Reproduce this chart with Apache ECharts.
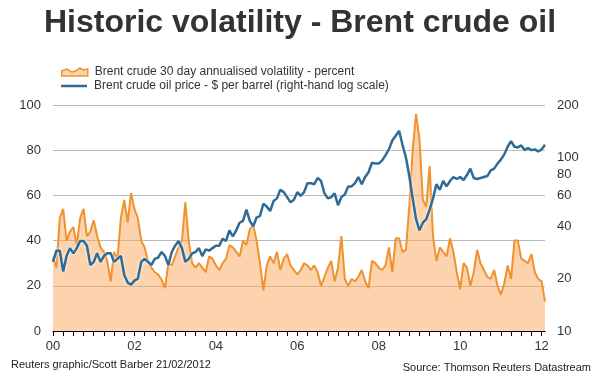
<!DOCTYPE html>
<html>
<head>
<meta charset="utf-8">
<script src="https://cdn.jsdelivr.net/npm/echarts@6/dist/echarts.min.js"></script>
<style>
  html, body { margin: 0; padding: 0; background: #fff; }
  #chart { width: 600px; height: 376px; }
</style>
</head>
<body>
<div id="chart"></div>
<script>
// monthly points, Jan 2000 .. Feb 2012
var startYear = 2000
var monthCount = 146
var months = []
for (var i = 0; i < monthCount; i++) {
  var y = startYear + Math.floor(i / 12)
  var m = (i % 12) + 1
  months.push(y + '-' + (m < 10 ? '0' + m : m))
}

// 30 day annualised volatility, percent (left axis)
var volatility = [
  33, 28, 50, 54, 40, 44, 46, 38, 50, 54, 42, 44,
  49, 42, 37, 35, 31, 22, 35, 32, 50, 58, 48, 61,
  54, 50, 40, 37, 31, 28, 26, 25, 22.7, 19, 30, 29,
  33, 37, 40, 57, 40, 30, 28, 30, 28, 26, 33, 32,
  29, 27, 30, 32, 38, 37, 35, 33, 40, 38, 45, 47,
  40, 30, 18, 29, 33, 30, 35, 27, 32, 34, 29, 27,
  25, 27, 30, 29, 27, 29, 26, 20, 24, 28, 31, 22,
  28, 42, 23, 20, 23, 22, 24, 27, 22, 19, 31, 30,
  28, 27, 29, 37, 26, 41, 41, 35, 36, 55, 80, 96,
  85, 58, 55, 73, 42, 31, 37, 35, 33, 41, 35, 26,
  18.5, 30, 28, 20, 26, 36, 30, 27, 24, 23, 27, 20,
  16, 21, 29, 23, 40, 40, 32, 31, 30, 34, 26, 23,
  22, 13
]

// Brent crude price, $ per barrel (right log axis)
var price = [
  25, 29, 29, 22, 27, 30, 28, 30, 33, 33, 31, 24,
  25, 28, 25, 27, 28, 28, 25, 26, 27, 21, 19, 18.5,
  19.5, 20, 25, 26, 25, 24, 26, 26.5, 28.5, 27, 24, 28.5,
  31, 33, 30, 25, 26, 28, 28.5, 30, 27, 29.5, 29, 30,
  31, 31, 34, 33, 38, 35, 38, 42, 43, 50, 43, 40,
  45, 46, 54, 52, 49, 56, 58, 65, 63, 59, 55, 57,
  63, 60, 63, 71, 71, 70, 76, 73, 62, 58, 59, 62,
  53, 59, 61, 68, 68, 71, 77, 70, 77, 82, 93, 92,
  92, 96, 103, 111, 125, 133, 142, 118, 100, 78, 58, 44,
  38, 42, 44, 50, 58, 70, 65, 73, 68, 73, 77, 75,
  77, 74, 79, 86, 76, 75, 76, 77, 78, 84, 86, 92,
  97, 104, 115, 124, 115, 114, 117, 110, 113, 110, 111, 108,
  111, 118
]

var volTicks = [0, 20, 40, 60, 80, 100]
var priceTicks = [10, 20, 40, 60, 80, 100, 200]

var volName = 'Brent crude 30 day annualised volatility - percent'
var priceName = 'Brent crude oil price - $ per barrel (right-hand log scale)'

var textColor = '#333'
var fontFamily = '"Liberation Sans", Arial, sans-serif'

var chart = echarts.init(document.getElementById('chart'))
var option = {
  animation: false,
  textStyle: { fontFamily: fontFamily },
  title: [
    {
      text: 'Historic volatility - Brent crude oil',
      left: 'center',
      top: 2,
      textStyle: { fontSize: 32, fontWeight: 'bold', color: '#333', fontFamily: fontFamily }
    },
    {
      text: 'Reuters graphic/Scott Barber 21/02/2012',
      left: 6,
      top: 354,
      textStyle: { fontSize: 11, fontWeight: 'normal', color: '#222', fontFamily: fontFamily }
    },
    {
      text: 'Source: Thomson Reuters Datastream',
      right: 4,
      top: 357,
      textStyle: { fontSize: 11, fontWeight: 'normal', color: '#222', fontFamily: fontFamily }
    }
  ],
  legend: [
    {
      left: 56,
      top: 61,
      itemWidth: 26,
      itemHeight: 9,
      textStyle: { fontSize: 12, color: textColor, padding: [0, 0, 0, 2] },
      data: [{
        name: volName,
        icon: 'path://M0,4 L5,2 L10,5 L14,4 L18,1 L22,3 L26,2 L26,9 L0,9 Z',
        itemStyle: { color: '#fcd3ab', borderColor: '#f0922e', borderWidth: 1.5 }
      }]
    },
    {
      left: 56,
      top: 75,
      itemWidth: 26,
      itemHeight: 2.5,
      textStyle: { fontSize: 12, color: textColor, padding: [0, 0, 0, 2] },
      data: [{
        name: priceName,
        icon: 'rect',
        itemStyle: { color: '#2f6b94' }
      }]
    }
  ],
  grid: {
    left: 53,
    right: 55,
    top: 105,
    bottom: 45
  },
  xAxis: {
    type: 'category',
    data: months,
    boundaryGap: false,
    axisLine: { lineStyle: { color: '#000', width: 1 } },
    axisTick: {
      length: 5,
      interval: function (index) { return index % 3 === 0 },
      lineStyle: { color: '#000' }
    },
    axisLabel: {
      interval: function (index) { return index % 24 === 0 },
      formatter: function (val) { return val.slice(2, 4) },
      color: textColor,
      fontSize: 13,
      margin: 9
    },
    splitLine: { show: false }
  },
  yAxis: [
    {
      type: 'value',
      min: 0,
      max: 100,
      interval: 20,
      axisLine: { show: false },
      axisTick: { show: false },
      axisLabel: {
        color: textColor,
        fontSize: 13,
        margin: 12,
        customValues: volTicks
      },
      splitLine: { lineStyle: { color: '#b8b8b8', width: 1 } }
    },
    {
      type: 'log',
      logBase: 10,
      min: 10,
      max: 200,
      position: 'right',
      axisLine: { show: false },
      axisTick: { show: false },
      axisLabel: {
        color: textColor,
        fontSize: 13,
        margin: 12,
        customValues: priceTicks
      },
      splitLine: { show: false }
    }
  ],
  series: [
    {
      name: volName,
      type: 'line',
      yAxisIndex: 0,
      data: volatility,
      symbol: 'none',
      lineStyle: { color: '#f0922e', width: 2 },
      itemStyle: { color: '#f0922e' },
      areaStyle: { color: '#f9a75a', opacity: 0.5 },
      z: 2
    },
    {
      name: priceName,
      type: 'line',
      yAxisIndex: 1,
      data: price,
      symbol: 'none',
      lineStyle: {
        color: '#2f6b94',
        width: 2.5,
        shadowColor: '#ffffff',
        shadowBlur: 3
      },
      itemStyle: { color: '#2f6b94' },
      z: 3
    }
  ]
}
chart.setOption(option)
</script>
</body>
</html>
